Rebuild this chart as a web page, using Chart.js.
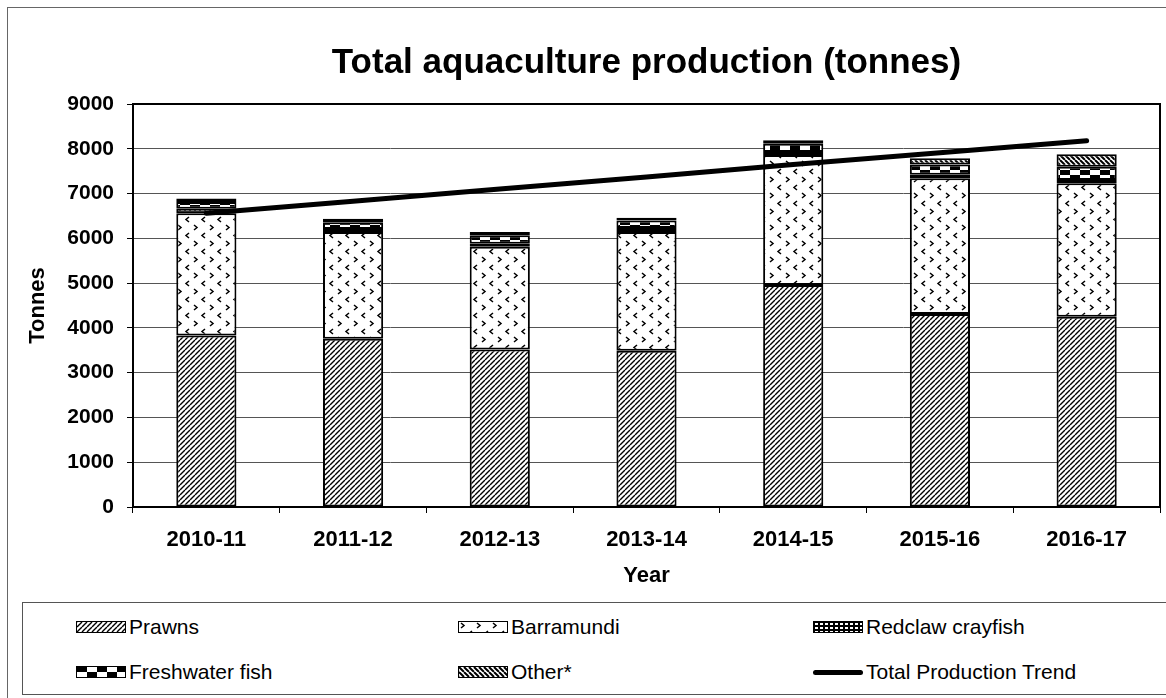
<!DOCTYPE html>
<html>
<head>
<meta charset="utf-8">
<script src="https://cdn.jsdelivr.net/npm/chart.js@4"></script>
<style>
  body { margin: 0; background: #fff; font-family: Arial, "Liberation Sans", sans-serif; }
  #frame { position: absolute; left: 7px; top: 7px; width: 1170px; height: 700px; border: 1px solid #666; }
  #wrap { position: absolute; left: 0; top: 0; width: 1166px; height: 600px; }
  #legend { position: absolute; left: 22px; top: 602px; width: 1160px; height: 93px; border: 1px solid #555; box-sizing: border-box; }
  .item { position: absolute; display: flex; align-items: center; font-size: 21px; color: #000; height: 26px; }
  .sw { width: 50px; height: 12px; border: 1px solid #000; box-sizing: border-box; margin-right: 3px; }
  .ln { width: 50px; height: 5px; background: #000; border-radius: 3px; margin-right: 3px; }
</style>
</head>
<body>
<div id="frame"></div>
<div id="wrap"><canvas id="chart"></canvas></div>
<div id="legend"></div>
<script>
// data
const years = ['2010-11', '2011-12', '2012-13', '2013-14', '2014-15', '2015-16', '2016-17'];
const prawns = [3830, 3760, 3520, 3490, 4960, 4310, 4250];
const barramundi = [2730, 2380, 2290, 2650, 2900, 3030, 2980];
const redclaw = [100, 70, 70, 90, 70, 80, 70];
const freshwater = [150, 150, 190, 170, 180, 230, 300];
const other = [80, 80, 70, 60, 80, 140, 280];
const trend = [6560, 6830, 7100, 7370, 7650, 7910, 8180];

// small tiles for the fill patterns
function tile(w, h, draw) {
    const c = document.createElement('canvas');
    c.width = w; c.height = h;
    const g = c.getContext('2d');
    g.fillStyle = '#fff';
    g.fillRect(0, 0, w, h);
    g.strokeStyle = '#000';
    g.fillStyle = '#000';
    draw(g, w, h);
    return c;
}

const tiles = {
    prawns: tile(5, 5, g => {
        g.lineWidth = 1.4;
        g.beginPath();
        for (const k of [-5, 0, 5]) { g.moveTo(k, 5); g.lineTo(k + 5, 0); }
        g.stroke();
    }),
    barramundi: tile(16, 16, g => {
        g.lineWidth = 1.5;
        g.beginPath();
        g.moveTo(2, 1); g.lineTo(5, 3.5); g.lineTo(2, 6);
        g.moveTo(13, 9); g.lineTo(10, 11.5); g.lineTo(13, 14);
        g.stroke();
    }),
    redclaw: tile(5, 4, g => {
        g.fillRect(0, 0, 5, 4);
        g.fillStyle = '#fff';
        g.fillRect(1, 1, 3, 2);
    }),
    freshwater: tile(20, 10, g => {
        g.fillRect(0, 0, 10, 5);
        g.fillRect(10, 5, 10, 5);
    }),
    other: tile(5, 5, g => {
        g.lineWidth = 2;
        g.beginPath();
        for (const k of [-5, 0, 5]) { g.moveTo(k, 0); g.lineTo(k + 5, 5); }
        g.stroke();
    })
};

const ctx = document.querySelector('#chart').getContext('2d');
const pat = name => ctx.createPattern(tiles[name], 'repeat');

function barSet(label, data, name) {
    return {
        type: 'bar',
        label: label,
        data: data,
        backgroundColor: pat(name),
        borderColor: '#000',
        borderWidth: 2,
        borderSkipped: false,
        tileName: name,
        order: 1,
        barPercentage: 0.41,
        categoryPercentage: 1
    };
}

// black frame round the plot area
const plotFrame = {
    id: 'plotFrame',
    afterDatasetsDraw(chart) {
        const a = chart.chartArea;
        const g = chart.ctx;
        g.save();
        g.strokeStyle = '#000';
        g.lineWidth = 2;
        g.beginPath();
        g.moveTo(a.left, a.top);
        g.lineTo(a.right, a.top);
        g.lineTo(a.right, a.bottom);
        g.stroke();
        g.restore();
    }
};

const chart = new Chart(ctx, {
    data: {
        labels: years,
        datasets: [
            barSet('Prawns', prawns, 'prawns'),
            barSet('Barramundi', barramundi, 'barramundi'),
            barSet('Redclaw crayfish', redclaw, 'redclaw'),
            barSet('Freshwater fish', freshwater, 'freshwater'),
            barSet('Other*', other, 'other'),
            {
                type: 'line',
                label: 'Total Production Trend',
                data: trend,
                stack: 'trend',
                borderColor: '#000',
                borderWidth: 5,
                pointRadius: 0,
                borderCapStyle: 'round',
                order: 0
            }
        ]
    },
    options: {
        responsive: true,
        maintainAspectRatio: false,
        animation: false,
        layout: { padding: { top: 10, left: 22, right: 6, bottom: 0 } },
        plugins: {
            legend: { display: false },
            tooltip: { enabled: false },
            title: {
                display: true,
                fullSize: false,
                text: 'Total aquaculture production (tonnes)',
                color: '#000',
                font: { family: 'Arial', size: 35, weight: 'bold' },
                padding: { top: 32, bottom: 20 }
            }
        },
        scales: {
            x: {
                stacked: true,
                grid: { display: true, drawOnChartArea: false, drawTicks: true, tickLength: 6, color: '#000' },
                border: { color: '#000', width: 2 },
                ticks: { color: '#000', padding: 14, maxRotation: 0, font: { family: 'Arial', size: 22, weight: 'bold' } },
                title: { display: true, text: 'Year', color: '#000', padding: 11, font: { family: 'Arial', size: 22, weight: 'bold' } },
                afterFit(s) { s.height = 93; }
            },
            y: {
                stacked: true,
                min: 0,
                max: 9000,
                grid: { color: '#555', lineWidth: 1, tickLength: 6, tickColor: '#000' },
                border: { color: '#000', width: 2 },
                ticks: {
                    stepSize: 1000,
                    color: '#000',
                    padding: 13,
                    font: { family: 'Arial', size: 21, weight: 'bold' },
                    callback: v => String(v)
                },
                title: { display: true, text: 'Tonnes', color: '#000', padding: 3, font: { family: 'Arial', size: 22, weight: 'bold' } },
                afterFit(s) { s.width = 111; }
            }
        }
    },
    plugins: [plotFrame]
});

// legend box in three columns, built from the datasets
const legend = document.querySelector('#legend');
const colX = [53, 435, 790];
const rowY = [11, 56];
chart.data.datasets.forEach((ds, i) => {
    const item = document.createElement('div');
    item.className = 'item';
    item.style.left = colX[i % 3] + 'px';
    item.style.top = rowY[Math.floor(i / 3)] + 'px';
    const sw = document.createElement('span');
    if (ds.type === 'line') {
        sw.className = 'ln';
    } else {
        sw.className = 'sw';
        sw.style.backgroundImage = 'url(' + tiles[ds.tileName].toDataURL() + ')';
    }
    item.appendChild(sw);
    item.appendChild(document.createTextNode(ds.label));
    legend.appendChild(item);
});
</script>
</body>
</html>
